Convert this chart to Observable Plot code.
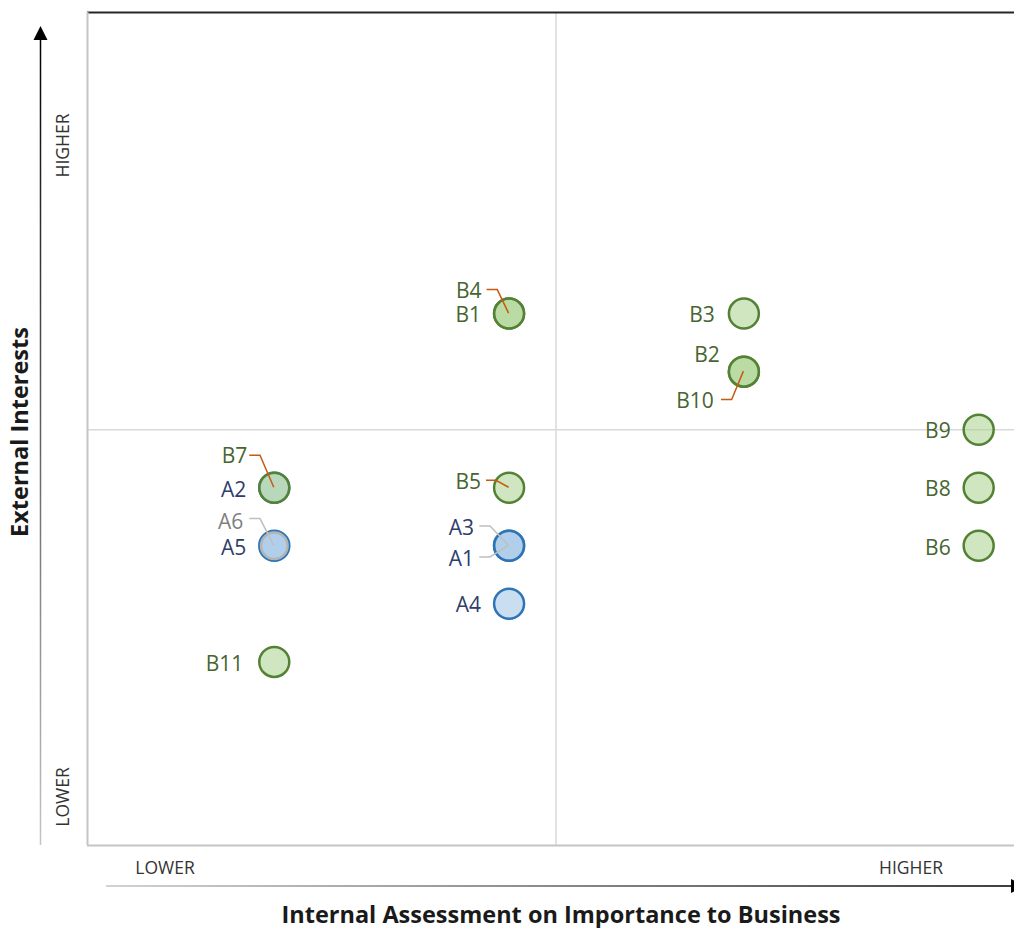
<!DOCTYPE html>
<html><head><meta charset="utf-8">
<script src="https://cdn.jsdelivr.net/npm/d3@7"></script>
<script src="https://cdn.jsdelivr.net/npm/@observablehq/plot@0.6"></script>
<style>body{margin:0;background:#fff;}#chart svg{display:block;}</style>
</head><body><div id="chart"></div>
<script>
// ---- data ----
const names   = ["B1","B4","B3","B2","B10","B9","B8","B6","B7","A2","B5","A6","A5","A3","A1","A4","B11"];
const xValues = [2,   2,   3,   3,   3,    4,   4,   4,   1,   1,   2,   1,   1,   2,   2,   2,   1];
const yValues = [7,   7,   7,   6,   6,    5,   4,   3,   4,   4,   4,   3,   3,   3,   3,   2,   1];
const groups  = ["B","B", "B", "B", "B",  "B", "B", "B", "B", "A", "B", "C", "A", "A", "A", "A", "B"];
const xTickLabels = ["LOWER", "HIGHER"];
const yTickLabels = ["LOWER", "HIGHER"];
const xTitle = "Internal Assessment on Importance to Business";
const yTitle = "External Interests";
const xSplit = 2.2;
const ySplit = 5;
const xDomain = [0.2045, 4.1526];
const yDomain = [-2.163, 12.187];

const data = names.map((n, i) => ({name: n, x: xValues[i], y: yValues[i], group: groups[i]}));

// ---- styles / label layout (pixel offsets) ----
const fills   = {A: "#9dc3e6", B: "#a9d18e", C: "#9dc3e6"};
const strokes = {A: "#2e75b6", B: "#548235", C: "#b4b4b4"};
const textCol = {A: "#2f3d6b", B: "#466530", C: "#7f7f7f"};
const leadCol = {A: "#bfbfbf", B: "#c55a11", C: "#bfbfbf"};
const layout = {
  B1: {dx: -28, dy: 2}, B3: {dx: -29, dy: 2},
  B4: {dx: -27.5, dy: -22, leader: [[-22, -23.5], [-11.3, -23.5], [0, 0]]},
  B2: {dx: -24, dy: -16},
  B10: {dx: -30, dy: 30, leader: [[-22.4, 28.3], [-11.7, 28.3], [0, 0]]},
  B9: {dx: -28, dy: 2}, B8: {dx: -28, dy: 2}, B6: {dx: -28, dy: 2},
  B7: {dx: -27, dy: -31, leader: [[-24.5, -32], [-13.8, -32], [0, 0]]},
  A2: {dx: -28, dy: 2.5},
  B5: {dx: -28, dy: -5.5, leader: [[-22.6, -7], [-12.6, -7], [0, 0]]},
  A6: {dx: -31, dy: -23.5, leader: [[-24.5, -26.7], [-13.8, -26.7], [0, 0]]},
  A5: {dx: -28, dy: 2.5},
  A3: {dx: -35, dy: -17.5, leader: [[-29.3, -19.3], [-18.6, -19.3], [0, 0]]},
  A1: {dx: -35, dy: 13.5, leader: [[-29.3, 11.7], [-18.6, 11.7], [0, 0]]},
  A4: {dx: -28, dy: 1.5},
  B11: {dx: -31, dy: 2}
};

const W = 1014, H = 928;
const M = {top: 12, right: 0, bottom: 83, left: 87};

function dotsFor(g, r) {
  return Plot.dot(data.filter(d => d.group === g), {
    x: "x", y: "y", r, fill: fills[g], fillOpacity: 0.55,
    stroke: strokes[g], strokeWidth: 2.5
  });
}

const labelMarks = data.map(d => Plot.text([d], {
  x: "x", y: "y", text: "name", textAnchor: "end",
  dx: layout[d.name].dx, dy: layout[d.name].dy,
  fill: textCol[d.group], fontSize: 21, fontFamily: "Open Sans"
}));

function leaders(index, scales) {
  const sx = scales && scales.x ? scales.x : d3.scaleLinear(xDomain, [M.left, W - M.right]);
  const sy = scales && scales.y ? scales.y : d3.scaleLinear(yDomain, [H - M.bottom, M.top]);
  const g = d3.create("svg:g").attr("fill", "none").attr("stroke-width", 1.5);
  for (const d of data) {
    const L = layout[d.name];
    if (!L.leader) continue;
    const cx = sx(d.x), cy = sy(d.y);
    g.append("polyline")
      .attr("points", L.leader.map(([a, b]) => `${cx + a},${cy + b}`).join(" "))
      .attr("stroke", leadCol[d.group]);
  }
  return g.node();
}

function axisArrows() {
  const g = d3.create("svg:g");
  const defs = g.append("defs");
  const gv = defs.append("linearGradient").attr("id", "gv")
    .attr("x1", 0).attr("y1", 1).attr("x2", 0).attr("y2", 0);
  gv.append("stop").attr("offset", "0%").attr("stop-color", "#c4c4c4");
  gv.append("stop").attr("offset", "100%").attr("stop-color", "#000");
  const gh = defs.append("linearGradient").attr("id", "gh")
    .attr("x1", 0).attr("y1", 0).attr("x2", 1).attr("y2", 0);
  gh.append("stop").attr("offset", "0%").attr("stop-color", "#c4c4c4");
  gh.append("stop").attr("offset", "100%").attr("stop-color", "#000");
  const ax = M.left - 46.5;
  g.append("rect").attr("x", ax - 0.75).attr("y", 38).attr("width", 1.5).attr("height", H - M.bottom - 38)
    .attr("fill", "url(#gv)");
  g.append("path").attr("d", `M${ax},26 L${ax - 7},40 L${ax + 7},40 Z`).attr("fill", "#000");
  const ay = 886;
  g.append("rect").attr("x", 106).attr("y", ay - 0.75).attr("width", 1011 - 106).attr("height", 1.5)
    .attr("fill", "url(#gh)");
  g.append("path").attr("d", `M1025,${ay} L1011,${ay - 7} L1011,${ay + 7} Z`).attr("fill", "#000");
  return g.node();
}

const tickStyle = {text: d => d, textAnchor: "middle", lineAnchor: "middle", fontSize: 17.5, fill: "#333"};
const titleStyle = {text: d => d, textAnchor: "middle", lineAnchor: "middle", fontSize: 23.5, fontWeight: "bold", fill: "#1a1a1a"};

const chart = Plot.plot({
  width: W, height: H,
  marginTop: M.top, marginRight: M.right, marginBottom: M.bottom, marginLeft: M.left,
  x: {domain: xDomain, axis: null},
  y: {domain: yDomain, axis: null},
  style: {fontFamily: "Open Sans", background: "#fff", overflow: "visible"},
  marks: [
    Plot.ruleX([xSplit], {stroke: "#d9d9d9", strokeWidth: 1.5}),
    Plot.ruleY([ySplit], {stroke: "#d9d9d9", strokeWidth: 1.5}),
    Plot.ruleY([yDomain[1]], {stroke: "#262626", strokeWidth: 2}),
    Plot.ruleY([yDomain[0]], {stroke: "#c4c4c4", strokeWidth: 2}),
    Plot.ruleX([xDomain[0]], {stroke: "#c4c4c4", strokeWidth: 2}),
    dotsFor("A", 15),
    dotsFor("B", 15),
    dotsFor("C", 13.3),
    leaders,
    ...labelMarks,
    axisArrows,
    // tick labels
    Plot.text([xTickLabels[0]], {...tickStyle, frameAnchor: "bottom-left", dx: 77.5, dy: 23}),
    Plot.text([xTickLabels[1]], {...tickStyle, frameAnchor: "bottom-right", dx: -103.5, dy: 23}),
    Plot.text([yTickLabels[1]], {...tickStyle, frameAnchor: "top-left", dx: -24, dy: 133, rotate: -90}),
    Plot.text([yTickLabels[0]], {...tickStyle, frameAnchor: "bottom-left", dx: -24, dy: -48.5, rotate: -90}),
    // titles
    Plot.text([xTitle], {...titleStyle, frameAnchor: "bottom", dx: 10, dy: 70}),
    Plot.text([yTitle], {...titleStyle, frameAnchor: "left", dx: -67, dy: 3, rotate: -90})
  ]
});
document.getElementById("chart").append(chart);
</script>
</body></html>
